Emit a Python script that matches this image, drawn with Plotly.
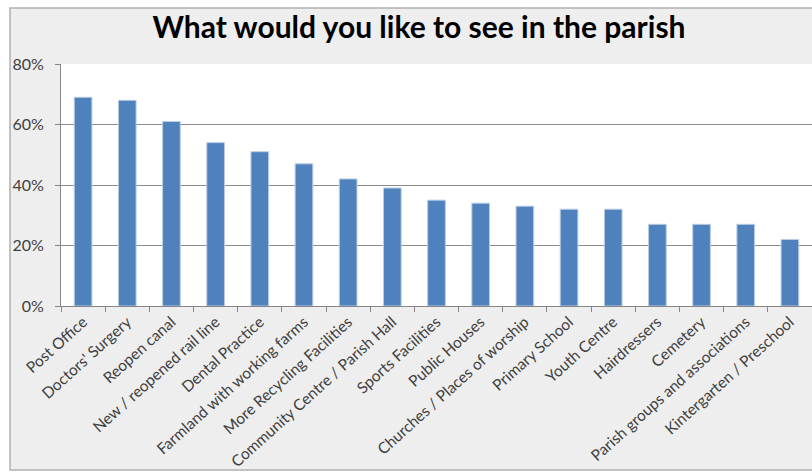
import plotly.graph_objects as go

# Survey responses: share of residents wanting each amenity
categories = [
    "Post Office", "Doctors' Surgery", "Reopen canal", "New / reopened rail line",
    "Dental Practice", "Farmland with working farms", "More Recycling Facilities",
    "Community Centre / Parish Hall", "Sports Facilities", "Public Houses",
    "Churches / Places of worship", "Primary School", "Youth Centre",
    "Hairdressers", "Cemetery", "Parish groups and associations",
    "Kintergarten / Preschool",
]
shares = [0.69, 0.68, 0.61, 0.54, 0.51, 0.47, 0.42, 0.39, 0.35, 0.34,
          0.33, 0.32, 0.32, 0.27, 0.27, 0.27, 0.22]
y_ticks = [0, 0.2, 0.4, 0.6, 0.8]
y_tick_text = ["0%", "20%", "40%", "60%", "80%"]

W, H = 812, 472
ML, MR, MT, MB = 61, 0, 64, 166
pw, ph = W - ML - MR, H - MT - MB
FONT = "Lato, Liberation Sans, Arial, sans-serif"


def px_x(v):
    return (v - ML) / pw


def px_y(v):
    return (H - MB - v) / ph


fig = go.Figure(go.Bar(
    x=categories, y=shares,
    marker=dict(color="#4F81BD", line=dict(color="#B9CDE5", width=1)),
))

fig.update_layout(
    width=W, height=H,
    margin=dict(l=ML, r=MR, t=MT, b=MB, autoexpand=False),
    paper_bgcolor="white",
    plot_bgcolor="white",
    bargap=0.6,
    showlegend=False,
    font=dict(family=FONT, color="#404040"),
    title=dict(
        text="<b>What would you like to see in the parish</b>",
        x=419 / W, xref="container", xanchor="center",
        y=1 - 27 / H, yref="container", yanchor="middle",
        font=dict(size=30, color="#000000", family=FONT),
    ),
    shapes=[
        # chart frame
        dict(type="rect", xref="paper", yref="paper", layer="below",
             x0=px_x(10), x1=px_x(840), y0=px_y(470), y1=px_y(8),
             fillcolor="#EEEEEE", line=dict(color="#B0B0B0", width=1.5)),
        # plot area
        dict(type="rect", xref="paper", yref="paper", layer="below",
             x0=0, x1=1, y0=0, y1=1,
             fillcolor="white", line=dict(width=0)),
    ],
)

fig.update_xaxes(
    range=[-0.5, len(categories) - 0.5],
    automargin=False,
    tickangle=-42,
    tickfont=dict(size=15.5, color="#404040"),
    ticks="outside", ticklen=5, tickcolor="#868686",
    tickson="boundaries",
    showline=True, linecolor="#868686", linewidth=1,
    showgrid=False,
)
fig.update_yaxes(
    range=[0, 0.8],
    automargin=False,
    tickvals=y_ticks, ticktext=y_tick_text,
    tickfont=dict(size=16, color="#404040"),
    ticks="outside", ticklen=5, tickcolor="#868686",
    ticklabelstandoff=8,
    showline=True, linecolor="#868686", linewidth=1,
    showgrid=True, gridcolor="#8C8C8C", gridwidth=1,
    zeroline=False,
)

fig.write_html("out.html")
